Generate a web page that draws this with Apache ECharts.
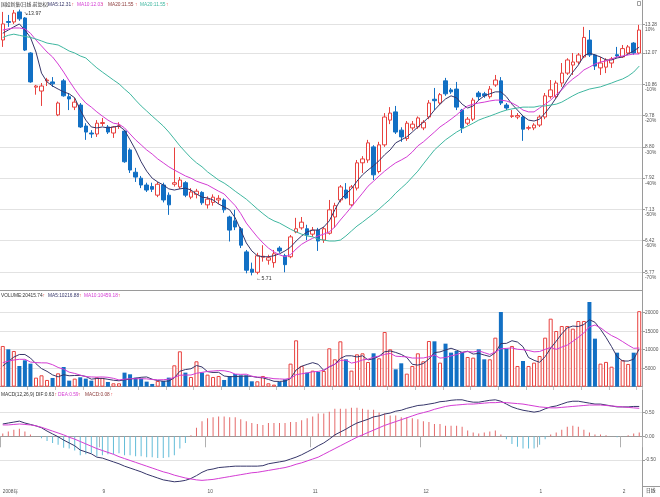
<!DOCTYPE html>
<html><head><meta charset="utf-8">
<script src="https://cdn.jsdelivr.net/npm/echarts@6/dist/echarts.min.js"></script>
<style>html,body{margin:0;padding:0;background:#fff}#c{width:660px;height:497px}</style>
</head><body><div id="c"></div>
<script>
const monthTickIndex = [0, 18, 37, 56, 76, 97, 112];
const monthTickLabel = ['2008年', '9', '10', '11', '12', '1', '2'];
const priceTicks = [13.28, 12.07, 10.86, 9.78, 8.80, 7.92, 7.13, 6.42, 5.77];
const pctTicks = ['10%', '', '-10%', '-20%', '-30%', '-40%', '-50%', '-60%', '-70%'];
const volTicks = [5000, 10000, 15000, 20000];
const macdTicks = [-0.5, 0, 0.5];

const openP = [12.61,13.42,13.40,13.86,13.58,12.07,10.76,10.62,10.99,10.95,
9.80,10.99,10.42,10.06,10.13,9.44,9.22,9.19,9.52,9.41,
9.22,9.43,9.28,8.71,8.08,7.92,7.74,7.70,7.48,7.74,
7.48,7.76,7.69,7.80,7.43,7.50,7.55,7.24,7.30,7.36,
7.36,6.95,6.86,6.68,6.18,5.83,5.77,6.07,6.01,5.96,
6.26,6.10,6.08,6.61,6.70,6.68,6.56,6.65,6.43,6.58,
6.95,7.36,7.61,7.24,7.66,8.34,8.42,8.80,8.10,8.86,
9.63,9.90,9.31,9.05,9.38,9.41,9.38,9.73,10.33,10.20,
10.99,10.66,10.69,9.96,9.53,9.66,10.55,10.52,10.42,10.84,
10.99,10.13,9.75,9.73,9.73,9.37,9.38,9.47,9.73,10.42,
10.42,10.91,11.28,11.59,11.71,11.91,12.61,11.99,11.48,11.51,
11.67,12.00,11.91,12.07,12.48,12.07];
const closeP = [13.31,13.38,13.81,13.54,12.19,10.95,10.80,10.80,11.02,10.88,
10.20,10.45,10.34,10.23,9.41,9.25,9.19,9.53,9.55,9.25,
9.41,9.45,8.37,8.14,7.95,7.74,7.61,7.63,7.76,7.36,
7.24,7.80,7.87,7.48,7.56,7.58,7.29,7.38,7.43,7.40,
7.12,6.65,6.72,6.32,5.81,5.77,6.10,6.09,6.06,6.14,
6.20,5.92,6.50,6.68,6.83,6.54,6.65,6.41,6.68,7.12,
7.22,7.69,7.41,7.69,8.34,8.45,8.92,8.01,8.86,9.73,
9.86,9.25,9.10,9.53,9.50,9.70,9.56,10.20,10.28,10.49,
10.52,10.59,10.06,9.38,9.66,10.30,10.42,10.45,10.69,11.02,
10.20,10.03,9.77,9.78,9.34,9.39,9.47,9.73,10.45,10.66,
10.91,11.28,11.79,11.71,11.99,12.72,11.99,11.55,11.67,11.79,
11.83,11.95,12.25,12.32,12.07,13.04];
const lowP = [12.32,13.18,13.31,13.45,12.15,10.92,10.49,10.10,10.80,10.77,
9.76,10.42,9.96,9.96,9.38,9.01,9.07,9.10,9.44,9.19,
9.07,9.35,8.34,8.06,7.82,7.66,7.56,7.56,7.43,7.30,
7.00,7.70,7.64,7.43,7.38,7.40,7.24,7.15,7.22,7.26,
7.05,6.40,6.65,6.26,5.75,5.71,5.73,5.98,5.92,5.86,
6.16,5.77,6.05,6.58,6.66,6.43,6.50,6.20,6.37,6.55,
6.70,7.30,7.38,7.20,7.60,8.06,8.34,7.87,8.05,8.80,
9.50,9.19,8.95,8.98,9.30,9.35,9.31,9.66,9.96,10.13,
10.45,10.52,9.96,9.22,9.47,9.60,10.30,10.38,10.35,10.77,
10.13,9.96,9.70,9.66,8.98,9.31,9.31,9.41,9.66,10.35,
10.35,10.77,11.21,11.21,11.63,11.86,11.91,11.40,11.21,11.28,
11.48,11.88,11.88,12.00,12.00,12.03];
const highP = [13.86,13.72,13.95,13.97,13.62,12.10,10.84,10.91,11.10,11.13,
10.25,11.06,10.55,10.38,10.20,9.53,9.31,9.63,9.70,9.47,
9.44,9.56,9.31,8.76,8.20,7.98,7.80,7.80,7.82,7.80,
7.55,8.78,7.95,7.84,7.66,7.64,7.58,7.45,7.50,7.48,
7.40,6.98,7.12,6.72,6.22,5.96,6.16,6.32,6.12,6.22,
6.30,6.14,6.54,6.93,6.95,6.77,6.72,6.70,6.72,7.36,
7.29,7.74,7.79,7.74,8.42,8.53,9.01,8.85,8.95,9.86,
10.06,10.10,9.40,9.60,9.60,9.75,9.63,10.30,10.73,10.55,
11.10,10.73,10.95,10.00,9.73,10.38,10.62,10.59,10.80,11.21,
11.13,10.20,9.96,9.86,9.80,9.45,9.53,9.80,10.55,11.02,
11.00,11.67,11.86,12.07,12.07,13.18,13.04,12.03,11.91,11.86,
11.91,12.32,12.40,12.40,12.52,13.27];

const ma5 = [12.90,13.04,13.18,13.31,13.04,12.72,12.11,11.28,10.95,10.80,
10.69,10.59,10.52,10.38,9.96,9.63,9.41,9.38,9.41,9.38,
9.41,9.44,9.31,9.01,8.71,8.37,8.11,7.92,7.82,7.74,
7.64,7.61,7.64,7.66,7.61,7.51,7.43,7.41,7.36,7.26,
7.19,7.12,6.93,6.65,6.37,6.20,6.10,6.08,6.08,6.10,
6.14,6.20,6.28,6.41,6.52,6.61,6.65,6.65,6.72,6.86,
7.12,7.36,7.51,7.64,7.84,8.01,8.14,8.26,8.40,8.57,
8.71,8.92,9.01,9.10,9.25,9.41,9.56,9.73,9.96,10.16,
10.34,10.45,10.38,10.16,10.03,10.10,10.30,10.45,10.52,10.59,
10.59,10.42,10.16,9.96,9.76,9.63,9.60,9.66,9.86,10.10,
10.38,10.69,11.02,11.32,11.59,11.95,12.07,11.99,11.91,11.79,
11.79,11.87,11.91,12.03,12.15,12.31];
const ma10 = [13.04,13.09,13.13,13.13,13.09,12.90,12.61,12.36,12.11,11.91,
11.63,11.32,10.99,10.69,10.42,10.20,10.06,9.90,9.76,9.63,
9.53,9.50,9.38,9.19,9.01,8.86,8.71,8.59,8.45,8.34,
8.23,8.14,8.06,7.98,7.92,7.84,7.79,7.74,7.66,7.58,
7.51,7.36,7.22,7.03,6.81,6.65,6.50,6.37,6.26,6.18,
6.12,6.08,6.12,6.24,6.34,6.41,6.47,6.52,6.56,6.61,
6.72,6.88,7.03,7.19,7.36,7.53,7.71,7.84,7.98,8.11,
8.23,8.34,8.42,8.51,8.65,8.83,8.95,9.10,9.25,9.41,
9.53,9.66,9.80,9.96,10.10,10.16,10.20,10.23,10.27,10.30,
10.30,10.27,10.20,10.10,9.96,9.90,9.90,10.03,10.16,10.30,
10.49,10.66,10.88,11.06,11.21,11.40,11.51,11.63,11.71,11.75,
11.83,11.91,11.95,11.99,12.03,12.03];
const ma20 = [12.72,12.81,12.86,12.81,12.76,12.72,12.65,12.57,12.48,12.44,
12.40,12.28,12.15,12.07,11.95,11.87,11.67,11.48,11.32,11.17,
11.02,10.88,10.69,10.52,10.30,10.10,9.93,9.76,9.60,9.44,
9.25,9.04,8.83,8.65,8.48,8.34,8.23,8.09,7.98,7.87,
7.79,7.69,7.58,7.48,7.38,7.26,7.14,7.03,6.93,6.86,
6.81,6.74,6.67,6.61,6.56,6.52,6.50,6.45,6.43,6.41,
6.41,6.43,6.52,6.63,6.74,6.83,6.93,7.03,7.14,7.26,
7.38,7.53,7.66,7.79,7.95,8.11,8.31,8.51,8.71,8.86,
9.01,9.13,9.25,9.35,9.44,9.53,9.63,9.70,9.76,9.83,
9.90,9.96,10.00,10.03,10.06,10.06,10.06,10.10,10.10,10.13,
10.16,10.23,10.34,10.45,10.55,10.62,10.69,10.73,10.77,10.84,
10.91,10.99,11.06,11.17,11.32,11.55];

const volume = [11003,10102,9651,5597,7128,6228,2444,3074,1813,2354,
3615,5327,1633,2174,2534,2174,1633,2534,2354,1273,
912,912,3795,3345,2444,2174,1363,732,1543,1543,
2444,5777,9561,3795,2624,6858,3795,3255,2624,2894,
1813,2894,3435,3074,3074,1453,1453,2894,912,552,
1273,1993,6228,12534,5597,3795,4336,3976,4246,10372,
7399,12264,7399,4336,8750,9020,6678,9020,7669,14787,
10102,4696,6318,3525,5597,9020,6858,12354,12264,6498,
11633,9201,9651,9381,8030,7849,10102,7399,7399,13255,
20193,10282,11003,5597,6948,5597,6498,8300,13255,18391,
15057,16409,16409,15688,17760,17760,22894,12985,6228,6700,
5400,9190,7200,6150,9190,20415.74];
const volMa5 = [5600,6800,8000,8700,8700,7741,6210,4894,4137,3183,
2660,3237,2948,3021,3057,2768,2030,2210,2246,1994,
1741,1597,1849,2047,2282,2534,2624,2012,1651,1471,
1525,2408,4174,4624,4840,5723,5327,4065,3831,3885,
2876,2696,2732,2822,2858,2786,2498,2390,1957,1453,
1417,1525,2192,4516,5525,6029,6498,6048,4390,5345,
6066,7651,8336,8354,8030,8354,7237,7561,8227,9435,
9651,9255,8714,7886,6048,5831,6264,7471,9219,9399,
9921,10390,9849,9273,9579,8822,9003,8552,8156,9201,
11670,11706,12426,12066,10805,7885,7129,6588,8120,10408,
12300,14282,15904,16391,16265,16805,18102,17417,15525,13313,
10841,8101,6944,6928,7426,10216.88];
const volMa10 = [6500,6900,7200,7400,7400,6670,6505,6447,6419,5942,
5200,4724,3921,3579,3120,2714,2634,2579,2634,2526,
2255,1814,2030,2147,2138,2138,2111,1931,1849,1877,
2030,2516,3093,3138,3156,3624,3868,4120,4228,4363,
4300,4012,3399,3327,3372,2831,2597,2561,2390,2156,
2102,2012,2291,3237,3489,3723,4012,4120,4453,5435,
6048,7075,7192,6372,6688,7210,7444,7949,8291,8733,
9003,8246,8138,8057,7742,7741,7760,8093,8553,7724,
7876,8327,8660,9246,9489,9372,9697,9201,8715,9390,
10246,10355,10489,10111,10003,9778,9418,9507,10093,10607,
10093,10706,11246,12256,13337,14553,16192,16661,15958,14789,
13823,13102,12181,11227,10370,10459.18];

const dif = [0.26,0.28,0.30,0.32,0.28,0.25,0.22,0.18,0.11,0.05,
-0.01,-0.08,-0.14,-0.20,-0.29,-0.33,-0.37,-0.44,-0.46,-0.50,
-0.54,-0.58,-0.63,-0.67,-0.71,-0.75,-0.80,-0.84,-0.88,-0.92,
-0.94,-0.96,-0.95,-0.93,-0.89,-0.83,-0.76,-0.71,-0.69,-0.66,
-0.65,-0.64,-0.63,-0.63,-0.63,-0.63,-0.63,-0.62,-0.58,-0.56,
-0.54,-0.52,-0.48,-0.44,-0.39,-0.33,-0.27,-0.20,-0.14,-0.06,
0.03,0.09,0.15,0.22,0.28,0.32,0.36,0.41,0.43,0.47,
0.49,0.53,0.55,0.59,0.62,0.65,0.66,0.68,0.70,0.73,
0.74,0.76,0.77,0.77,0.74,0.72,0.72,0.74,0.76,0.77,
0.74,0.68,0.62,0.58,0.55,0.53,0.51,0.53,0.58,0.62,
0.64,0.68,0.72,0.74,0.74,0.72,0.70,0.68,0.68,0.66,
0.64,0.62,0.62,0.62,0.63,0.63];
const dea = [0.24,0.24,0.25,0.26,0.25,0.24,0.22,0.19,0.15,0.11,
0.07,0.03,-0.02,-0.06,-0.11,-0.16,-0.21,-0.26,-0.30,-0.34,
-0.38,-0.43,-0.47,-0.51,-0.55,-0.59,-0.63,-0.67,-0.71,-0.75,
-0.78,-0.82,-0.85,-0.88,-0.90,-0.92,-0.93,-0.92,-0.91,-0.89,
-0.87,-0.85,-0.83,-0.81,-0.79,-0.77,-0.76,-0.74,-0.72,-0.70,
-0.68,-0.66,-0.63,-0.59,-0.56,-0.52,-0.48,-0.44,-0.38,-0.32,
-0.26,-0.20,-0.14,-0.08,-0.02,0.03,0.08,0.13,0.18,0.23,
0.27,0.31,0.35,0.39,0.43,0.47,0.50,0.53,0.57,0.60,
0.63,0.65,0.66,0.67,0.68,0.68,0.69,0.70,0.71,0.71,
0.72,0.71,0.70,0.69,0.68,0.66,0.64,0.62,0.61,0.60,
0.60,0.61,0.62,0.63,0.64,0.65,0.66,0.66,0.66,0.65,
0.64,0.63,0.62,0.61,0.60,0.59];
const macdHist = [0.06,0.10,0.14,0.16,0.10,0.04,0.00,-0.04,-0.10,-0.14,
-0.18,-0.24,-0.26,-0.30,-0.40,-0.38,-0.36,-0.42,-0.40,-0.38,
-0.38,-0.36,-0.40,-0.40,-0.42,-0.42,-0.44,-0.44,-0.46,-0.46,
-0.44,-0.40,-0.26,-0.14,0.02,0.18,0.32,0.38,0.40,0.42,
0.42,0.40,0.40,0.36,0.32,0.28,0.26,0.24,0.28,0.28,
0.28,0.28,0.30,0.30,0.34,0.38,0.42,0.48,0.48,0.52,
0.58,0.58,0.58,0.60,0.60,0.58,0.56,0.56,0.50,0.48,
0.44,0.44,0.40,0.40,0.38,0.36,0.32,0.30,0.26,0.26,
0.22,0.22,0.22,0.20,0.12,0.08,0.06,0.08,0.10,0.12,
0.04,-0.06,-0.16,-0.22,-0.26,-0.26,-0.26,-0.18,-0.06,0.04,
0.08,0.14,0.20,0.22,0.20,0.14,0.08,0.04,0.04,0.02,
0.00,-0.02,0.00,0.02,0.06,0.08];

const categories = openP.map((_, i) => 'd' + i);

// ---- layout / styling ----
const LN = Math.log;
const FONT = '"Liberation Sans","DejaVu Sans","Noto Sans CJK SC",sans-serif';
const FS = 4.8;
const RED = '#e8413e', BLUE = '#1270c4', DARK = '#36366a', MAG = '#d43cd4', TEAL = '#3fb7a0', MAROON = '#8c3b3b';
const base = 12.07, pxPerLn = 297.1;
const mainTop = 7, mainBottom = 290;
const yMaxMain = LN(base) + (53 - mainTop) / pxPerLn;
const yMinMain = LN(base) - (mainBottom - 53) / pxPerLn;
const lnTicks = priceTicks.map(LN);
const pctLn = lnTicks.filter((_, k) => pctTicks[k]);
function nearestTick(v) {
  let best = 0;
  lnTicks.forEach((t, k) => { if (Math.abs(t - v) < Math.abs(lnTicks[best] - v)) best = k; });
  return best;
}
const isMonth = (i) => monthTickIndex.indexOf(i) >= 0;

const chart = echarts.init(document.getElementById('c'), null, {renderer: 'canvas'});
const hiddenX = (g) => ({
  type: 'category', gridIndex: g, data: categories, boundaryGap: true,
  axisLine: {show: true, lineStyle: {color: '#9a9a9a', width: 1}},
  axisTick: {show: false}, axisLabel: {show: false}, splitLine: {show: false}
});
const lab = {fontSize: FS, color: '#555', fontFamily: FONT, margin: 3};

const option = {
  animation: false,
  backgroundColor: '#ffffff',
  grid: [
    {left: 0, right: 18, top: mainTop, height: mainBottom - mainTop, containLabel: false, outerBoundsMode: 'none'},
    {left: 0, right: 18, top: 292, height: 98, containLabel: false, outerBoundsMode: 'none'},
    {left: 0, right: 18, top: 390, height: 96, containLabel: false, outerBoundsMode: 'none'}
  ],
  xAxis: [
    hiddenX(0), hiddenX(1),
    {
      type: 'category', gridIndex: 2, data: categories, boundaryGap: true,
      axisLine: {show: true, lineStyle: {color: '#9a9a9a', width: 1}},
      axisTick: {show: true, interval: (i) => isMonth(i), length: 11, lineStyle: {color: '#b0b0b0'}},
      axisLabel: Object.assign({}, lab, {interval: (i) => isMonth(i), align: 'left', margin: 3,
        formatter: (v, i) => { const k = monthTickIndex.indexOf(i); return k >= 0 ? monthTickLabel[k] : ''; }}),
      splitLine: {show: false}
    },
    {
      type: 'category', gridIndex: 2, data: categories, boundaryGap: true,
      axisLine: {show: false},
      axisTick: {show: true, interval: (i) => i % 5 === 0 && !isMonth(i), length: 3, lineStyle: {color: '#c0c0c0'}},
      axisLabel: {show: false}, splitLine: {show: false}
    }
  ],
  yAxis: [
    {
      type: 'value', gridIndex: 0, position: 'right', min: yMinMain, max: yMaxMain, scale: true,
      axisLine: {show: true, lineStyle: {color: '#9a9a9a'}},
      axisTick: {show: true, length: 3, customValues: lnTicks, lineStyle: {color: '#9a9a9a'}},
      axisLabel: Object.assign({}, lab, {customValues: lnTicks, formatter: (v) => priceTicks[nearestTick(v)].toFixed(2)}),
      splitLine: {show: true, lineStyle: {color: '#e2e2e2', width: 1}}
    },
    {
      type: 'value', gridIndex: 0, position: 'right', min: yMinMain, max: yMaxMain, scale: true,
      axisLine: {show: false}, axisTick: {show: false, customValues: pctLn},
      axisLabel: Object.assign({}, lab, {customValues: pctLn, verticalAlign: 'top', padding: [3, 0, 0, 0],
        formatter: (v) => pctTicks[nearestTick(v)]}),
      splitLine: {show: false}
    },
    {
      type: 'value', gridIndex: 1, position: 'right', min: -900, max: 25600,
      axisLine: {show: true, lineStyle: {color: '#9a9a9a'}},
      axisTick: {show: true, length: 3, customValues: volTicks, lineStyle: {color: '#9a9a9a'}},
      axisLabel: Object.assign({}, lab, {customValues: volTicks, formatter: (v) => String(v)}),
      splitLine: {show: true, lineStyle: {color: '#e2e2e2'}}
    },
    {
      type: 'value', gridIndex: 2, position: 'right', min: -1.049, max: 0.977,
      axisLine: {show: true, lineStyle: {color: '#9a9a9a'}},
      axisTick: {show: true, length: 3, customValues: macdTicks, lineStyle: {color: '#9a9a9a'}},
      axisLabel: Object.assign({}, lab, {customValues: macdTicks, formatter: (v) => v.toFixed(2)}),
      splitLine: {show: true, lineStyle: {color: '#e2e2e2'}}
    }
  ],
  series: [
    {
      type: 'candlestick', xAxisIndex: 0, yAxisIndex: 0, barWidth: 4,
      data: openP.map((o, i) => [LN(o), LN(closeP[i]), LN(lowP[i]), LN(highP[i])]),
      itemStyle: {color: '#ffffff', color0: BLUE, borderColor: RED, borderColor0: BLUE, borderColorDoji: RED, borderWidth: 1},
      markPoint: {
        symbol: 'rect', symbolSize: 1, itemStyle: {color: 'rgba(0,0,0,0)'},
        label: {show: true, position: 'right', fontSize: FS + 0.4, color: '#333', fontFamily: FONT},
        data: [
          {coord: [categories[3], LN(highP[3])], label: {formatter: '↘13.97', offset: [-1, 4]}},
          {coord: [categories[45], LN(lowP[45])], label: {formatter: '←5.71', offset: [-1, 3]}}
        ]
      }
    },
    {type: 'line', xAxisIndex: 0, yAxisIndex: 0, data: ma5.map(LN), symbol: 'none', lineStyle: {color: DARK, width: 1}},
    {type: 'line', xAxisIndex: 0, yAxisIndex: 0, data: ma10.map(LN), symbol: 'none', lineStyle: {color: MAG, width: 1}},
    {type: 'line', xAxisIndex: 0, yAxisIndex: 0, data: ma20.map(LN), symbol: 'none', lineStyle: {color: TEAL, width: 1}},
    {
      type: 'bar', xAxisIndex: 1, yAxisIndex: 2, barWidth: 4,
      data: volume.map((v, i) => ({value: v, itemStyle: closeP[i] >= openP[i]
        ? {color: '#ffffff', borderColor: RED, borderWidth: 1}
        : {color: BLUE, borderColor: BLUE, borderWidth: 0}}))
    },
    {type: 'line', xAxisIndex: 1, yAxisIndex: 2, data: volMa5, symbol: 'none', lineStyle: {color: DARK, width: 1}},
    {type: 'line', xAxisIndex: 1, yAxisIndex: 2, data: volMa10, symbol: 'none', lineStyle: {color: MAG, width: 1}},
    {
      type: 'bar', xAxisIndex: 2, yAxisIndex: 3, barWidth: 1,
      data: macdHist.map((v) => ({value: v, itemStyle: {color: v >= 0 ? '#e56a6a' : '#62bcd8'}}))
    },
    {type: 'line', xAxisIndex: 2, yAxisIndex: 3, data: dif, symbol: 'none', lineStyle: {color: DARK, width: 1}},
    {type: 'line', xAxisIndex: 2, yAxisIndex: 3, data: dea, symbol: 'none', lineStyle: {color: MAG, width: 1}}
  ],
  graphic: []
};

function txt(x, y, s, fill) {
  return {type: 'text', x: x, y: y, silent: true,
    style: {text: s, fill: fill, fontSize: FS, fontFamily: FONT, verticalAlign: 'middle', align: 'left'}};
}
const g = option.graphic;
g.push(txt(1, 5, '国投新集(日线,前复权)', '#333'));
g.push(txt(48, 5, 'MA5:12.31', DARK)); g.push(txt(71.5, 5, '↑', RED));
g.push(txt(77, 5, 'MA10:12.03', MAG)); g.push(txt(101, 5, '↑', RED));
g.push(txt(108, 5, 'MA20:11.55', MAROON)); g.push(txt(135, 5, '↑', RED));
g.push(txt(140, 5, 'MA20:11.55', TEAL)); g.push(txt(166, 5, '↑', RED));
g.push(txt(1, 296, 'VOLUME:20415.74', '#333')); g.push(txt(42.5, 296, '↑', RED));
g.push(txt(48, 296, 'MA5:10216.88', DARK)); g.push(txt(79, 296, '↑', RED));
g.push(txt(84, 296, 'MA10:10459.18', MAG)); g.push(txt(118, 296, '↑', RED));
g.push(txt(1, 395, 'MACD(12,26,9) DIF:0.63', '#333')); g.push(txt(54.5, 395, '↑', RED));
g.push(txt(58, 395, 'DEA:0.59', MAG)); g.push(txt(78, 395, '↑', RED));
g.push(txt(85, 395, 'MACD:0.08', MAROON)); g.push(txt(110.5, 395, '↑', RED));
g.push(txt(646, 491, '日线', '#333'));
g.push({type: 'line', silent: true, shape: {x1: 642.5, y1: 0, x2: 642.5, y2: 497}, style: {stroke: '#9a9a9a', lineWidth: 1}});
g.push({type: 'line', silent: true, shape: {x1: 642.5, y1: 486.5, x2: 660, y2: 486.5}, style: {stroke: '#9a9a9a', lineWidth: 1}});
g.push({type: 'rect', silent: true, shape: {x: 637.5, y: 1.5, width: 3, height: 4}, style: {fill: 'none', stroke: '#888', lineWidth: 0.8}});

chart.setOption(option);
</script>
</body></html>
